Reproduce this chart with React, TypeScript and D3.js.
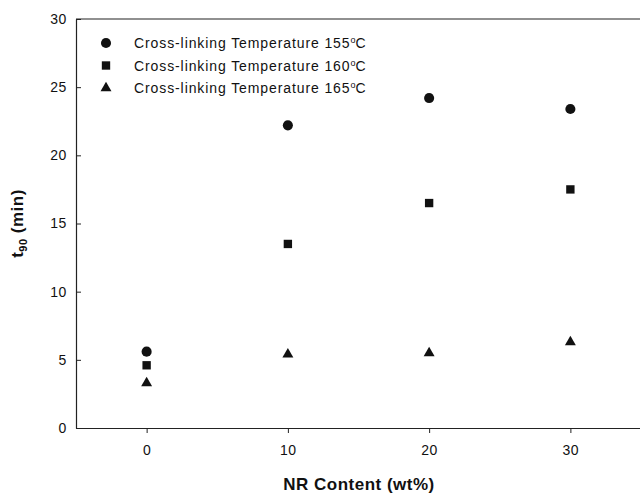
import React, { useRef, useEffect } from "react";
import * as d3 from "d3";

const nrContent = [0, 10, 20, 30];
const temp155 = [5.6, 22.2, 24.2, 23.4];
const temp160 = [4.6, 13.5, 16.5, 17.5];
const temp165 = [3.3, 5.4, 5.5, 6.3];
const seriesLabels = ["155", "160", "165"];
const xTicks = [0, 10, 20, 30];
const yTicks = [0, 5, 10, 15, 20, 25, 30];

const App: React.FC = () => {
    const svgRef = useRef<SVGSVGElement | null>(null);

    useEffect(() => {
        if (!svgRef.current) return;
        const svg = d3.select(svgRef.current);
        svg.selectAll("*").remove();

        const font = "'Liberation Sans', Arial, sans-serif";
        const x = d3.scaleLinear().domain([-5, 35]).range([76, 641]);
        const y = d3.scaleLinear().domain([0, 30]).range([428, 19]);

        // frame (top + right)
        svg.append("path")
            .attr("d", `M${x(-5)},${y(30)}H${x(35)}V${y(0)}`)
            .attr("fill", "none")
            .attr("stroke", "#222")
            .attr("stroke-width", 1.2);

        const xAxis = svg
            .append("g")
            .attr("transform", `translate(0,${y(0)})`)
            .call(d3.axisBottom(x).tickValues(xTicks).tickSizeInner(5).tickSizeOuter(0).tickPadding(12));

        const yAxis = svg
            .append("g")
            .attr("transform", `translate(${x(-5)},0)`)
            .call(d3.axisLeft(y).tickValues(yTicks).tickSizeInner(-5).tickSizeOuter(0).tickPadding(9));

        [xAxis, yAxis].forEach((g) => {
            g.selectAll("path").attr("stroke", "#222").attr("stroke-width", 1.2);
            g.selectAll("line").attr("stroke", "#222");
            g.selectAll("text")
                .attr("fill", "#111")
                .style("font-family", font)
                .style("font-size", "14px")
                .style("letter-spacing", "0.6px");
        });

        const series = [
            { vals: temp155, shape: d3.symbolCircle, size: 80 },
            { vals: temp160, shape: d3.symbolSquare, size: 70 },
            { vals: temp165, shape: d3.symbolTriangle, size: 52 },
        ];

        series.forEach((s) => {
            svg.append("g")
                .selectAll("path")
                .data(s.vals)
                .enter()
                .append("path")
                .attr("d", d3.symbol().type(s.shape).size(s.size)())
                .attr("transform", (d, i) => `translate(${x(nrContent[i])},${y(d)})`)
                .attr("fill", "#111");
        });

        // legend
        const legend = svg.append("g").attr("transform", "translate(106,43)");
        series.forEach((s, i) => {
            const row = legend.append("g").attr("transform", `translate(0,${i * 22.5})`);
            row.append("path")
                .attr("d", d3.symbol().type(s.shape).size(s.size)())
                .attr("fill", "#111");
            const t = row
                .append("text")
                .attr("x", 28)
                .attr("y", 5)
                .attr("fill", "#111")
                .style("font-family", font)
                .style("font-size", "14px")
                .style("letter-spacing", "0.9px");
            t.append("tspan").text(`Cross-linking Temperature ${seriesLabels[i]}`);
            t.append("tspan").attr("dy", -5).style("font-size", "9px").style("letter-spacing", "0px").text("o");
            t.append("tspan").attr("dy", 5).text("C");
        });

        // axis titles
        svg.append("text")
            .attr("x", 359)
            .attr("y", 490)
            .attr("text-anchor", "middle")
            .attr("fill", "#111")
            .style("font-family", font)
            .style("font-size", "17px")
            .style("font-weight", "bold")
            .style("letter-spacing", "0.5px")
            .text("NR Content (wt%)");

        const yt = svg
            .append("text")
            .attr("transform", `translate(23,${(y(0) + y(30)) / 2}) rotate(-90)`)
            .attr("text-anchor", "middle")
            .attr("fill", "#111")
            .style("font-family", font)
            .style("font-size", "17px")
            .style("font-weight", "bold")
            .style("letter-spacing", "0.5px");
        yt.append("tspan").text("t");
        yt.append("tspan").attr("dy", 4).style("font-size", "11px").text("90");
        yt.append("tspan").attr("dy", -4).text(" (min)");
    }, []);

    return (
        <svg
            ref={svgRef}
            width={640}
            height={494}
            style={{ position: "absolute", left: 0, top: 0, background: "#fff" }}
        />
    );
};

export default App;
